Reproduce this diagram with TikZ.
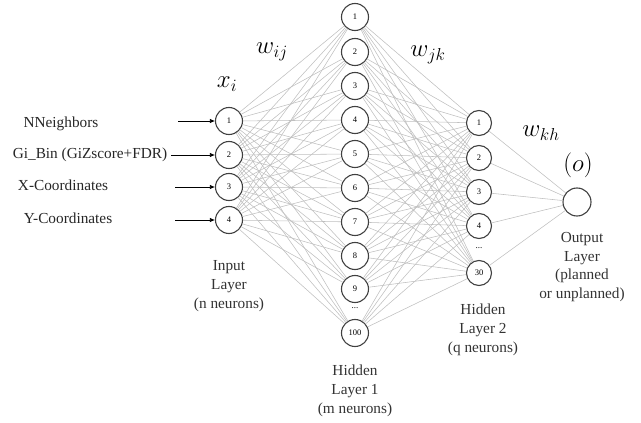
\documentclass[tikz,border=0pt]{standalone}
\usepackage{fontspec}
\setmainfont{Liberation Serif}
\usetikzlibrary{arrows.meta}
\begin{document}
\begin{tikzpicture}[x=1pt,y=-1pt,
  neuron/.style={circle,draw=black!75,line width=1.1pt,minimum size=#1,inner sep=0pt,font=\fontsize{8.5}{8.5}\selectfont},
  neuron/.default=26pt,
  conn/.style={draw=black!25,line width=0.55pt},
  inarrow/.style={-{Latex[length=5pt,width=4.5pt]},line width=0.7pt},
  lbl/.style={font=\fontsize{15.3}{17}\selectfont,text=black!85},
  layercap/.style={font=\fontsize{15.3}{18.8}\selectfont,align=center,text=black!80},
  wlbl/.style={font=\fontsize{23}{23}\selectfont}
]
\useasboundingbox (0,0) rectangle (641,423);
% input layer
\foreach \i/\y in {1/121,2/155,3/187,4/220} {
  \node[neuron=27pt] (i\i) at (229,\y) {\i};
}
% hidden layer 1
\foreach \i/\y in {1/17,2/52,3/86,4/120,5/154,6/188,7/222,8/256,9/289} {
  \node[neuron=27pt] (h\i) at (355,\y) {\i};
}
\node[neuron=27pt] (h10) at (355,333) {100};
\node[font=\fontsize{9}{9}\selectfont] (hd) at (355,308) {...};
% hidden layer 2
\foreach \i/\y in {1/123,2/158,3/192,4/226} {
  \node[neuron=25pt] (k\i) at (479,\y) {\i};
}
\node[neuron=25pt] (k5) at (479,273) {30};
\node[font=\fontsize{9}{9}\selectfont] (kd) at (479,248) {...};
% output
\node[neuron=28pt] (o) at (577,202) {};
% connections
\foreach \a in {1,...,4} { \foreach \b in {1,...,10} { \draw[conn] (i\a) -- (h\b); } }
\foreach \a in {1,...,10} { \foreach \b in {1,...,5} { \draw[conn] (h\a) -- (k\b); } }
\foreach \a in {1,...,5} { \draw[conn] (k\a) -- (o); }
% input labels and arrows
\node[lbl] (l1) at (61,124) {NNeighbors};
\node[lbl] (l2) at (90,155) {Gi\_Bin (GiZscore+FDR)};
\node[lbl] (l3) at (63,185) {X-Coordinates};
\node[lbl] (l4) at (68,218) {Y-Coordinates};
\coordinate (s1) at (178,121);
\coordinate (s2) at (171,155);
\coordinate (s3) at (175,187);
\coordinate (s4) at (175,220);
\foreach \i in {1,...,4} { \draw[inarrow] (s\i) -- (i\i); }
% weight labels
\node[wlbl] (xi) at (227,84) {$x_i$};
\node[wlbl] (wij) at (272,52) {$w_{ij}$};
\node[wlbl] (wjk) at (428,55) {$w_{jk}$};
\node[wlbl] (wkh) at (541,133) {$w_{kh}$};
\node[wlbl] (ol) at (578,165) {$(o)$};
% captions
\node[layercap] (ci) at (229,286) {Input\\Layer\\(n neurons)};
\node[layercap] (ch1) at (355,391) {Hidden\\Layer 1\\(m neurons)};
\node[layercap] (ch2) at (483,330) {Hidden\\Layer 2\\(q neurons)};
\node[layercap] (co) at (582,267) {Output\\Layer\\(planned\\or unplanned)};
\end{tikzpicture}
\end{document}
